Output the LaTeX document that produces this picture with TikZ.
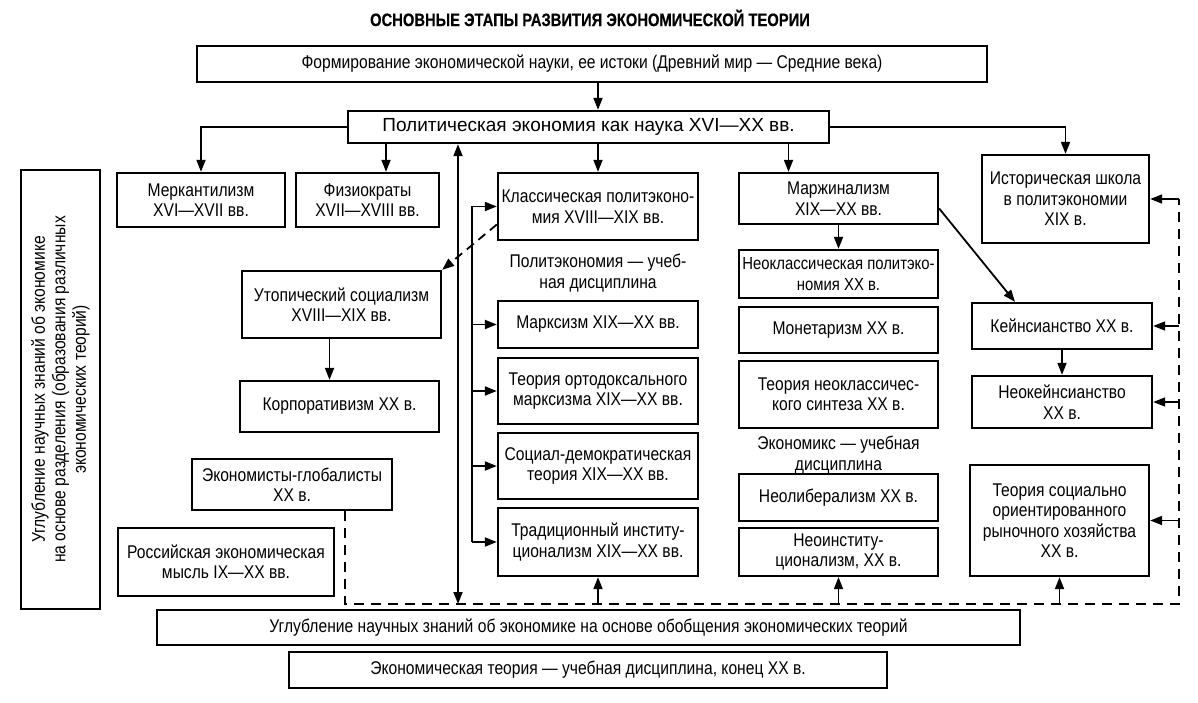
\documentclass[tikz,border=0pt]{standalone}
\usepackage{fontspec}
\setmainfont{Liberation Sans}[FakeStretch=0.85]
\newfontfamily\widefont{Liberation Sans}
\newfontfamily\titlefont{Liberation Sans}[FakeStretch=0.82, FakeBold=0.4]
\usetikzlibrary{calc, arrows.meta}

\begin{document}
\begin{tikzpicture}[x=1pt, y=-1pt,
		box/.style={draw, line width=2.3pt, align=center, inner sep=1pt, font=\fontsize{18.4}{20.5}\selectfont},
		lbl/.style={align=center, inner sep=0pt, font=\fontsize{18.4}{20.5}\selectfont},
		arr/.style={line width=1.8pt, -{Triangle[length=12pt, width=9pt]}},
		dashline/.style={line width=2.1pt, dash pattern=on 10pt off 7pt}]
		\useasboundingbox (0,0) rectangle (1198,703);
		
		% Title
		\node[font=\titlefont\bfseries\fontsize{18}{20}\selectfont] (title) at (590,18) {ОСНОВНЫЕ ЭТАПЫ РАЗВИТИЯ ЭКОНОМИЧЕСКОЙ ТЕОРИИ};
		
		% Top of the scheme
		\node[box, minimum width=790, minimum height=36] (form) at (592,64) {Формирование экономической науки, ее истоки (Древний мир — Средние века)};
		\node[box, minimum width=481, minimum height=32, font=\widefont\fontsize{19}{20}\selectfont] (pol) at (588.5,127) {Политическая экономия как наука XVI—XX вв.};
		
		% Left side
		\node[box, rotate=90, minimum width=439, minimum height=79] (deep) at (60.5,389.5) {Углубление научных знаний об экономике\\на основе разделения (образования различных\\экономических теорий)};
		\node[box, minimum width=168, minimum height=54] (merc) at (201,200) {Меркантилизм\\XVI—XVII вв.};
		\node[box, minimum width=143, minimum height=54] (fiz) at (367.5,200) {Физиократы\\XVII—XVIII вв.};
		\node[box, minimum width=199, minimum height=67] (utop) at (341.5,304.5) {Утопический социализм\\XVIII—XIX вв.};
		\node[box, minimum width=199, minimum height=51] (korp) at (339.5,406.5) {Корпоративизм XX в.};
		\node[box, minimum width=200, minimum height=51] (glob) at (292,484.5) {Экономисты-глобалисты\\XX в.};
		\node[box, minimum width=216, minimum height=68] (rus) at (226,562) {Российская экономическая\\мысль IX—XX вв.};
		
		% Classical political economy
		\node[box, minimum width=200, minimum height=67] (clas) at (598,206.5) {Классическая политэконо-\\мия XVIII—XIX вв.};
		\node[lbl] (polstudy) at (598,273) {Политэкономия — учеб-\\ная дисциплина};
		\node[box, minimum width=200, minimum height=47] (marx) at (598,324.5) {Марксизм XIX—XX вв.};
		\node[box, minimum width=200, minimum height=66] (orth) at (598,391) {Теория ортодоксального\\марксизма XIX—XX вв.};
		\node[box, minimum width=200, minimum height=66] (soc) at (598,466) {Социал-демократическая\\теория XIX—XX вв.};
		\node[box, minimum width=200, minimum height=68] (trad) at (598,542) {Традиционный институ-\\ционализм XIX—XX вв.};
		
		% Marginalism
		\node[box, minimum width=199, minimum height=51] (marg) at (838.5,198.5) {Маржинализм\\XIX—XX вв.};
		\node[box, minimum width=199, minimum height=48, inner sep=0pt, font=\fontsize{17.5}{20.5}\selectfont] (neocl) at (838.5,274) {Неоклассическая политэко-\\номия XX в.};
		\node[box, minimum width=199, minimum height=46] (monet) at (838.5,330) {Монетаризм XX в.};
		\node[box, minimum width=199, minimum height=67] (synth) at (838.5,394.5) {Теория неоклассичес-\\кого синтеза XX в.};
		\node[lbl] (ecstudy) at (838.5,455) {Экономикс — учебная\\дисциплина};
		\node[box, minimum width=199, minimum height=47] (neolib) at (838.5,497.5) {Неолиберализм XX в.};
		\node[box, minimum width=199, minimum height=48] (neoinst) at (838.5,552) {Неоинститу-\\ционализм, XX в.};
		
		% Right side
		\node[box, minimum width=167, minimum height=88] (hist) at (1065.5,199) {Историческая школа\\в политэкономии\\XIX в.};
		\node[box, minimum width=180, minimum height=46] (keyn) at (1062,326) {Кейнсианство XX в.};
		\node[box, minimum width=180, minimum height=52] (neokeyn) at (1062,402) {Неокейнсианство\\XX в.};
		\node[box, minimum width=179, minimum height=111] (socm) at (1059.5,520.5) {Теория социально\\ориентированного\\рыночного хозяйства\\XX в.};
		
		% Bottom
		\node[box, minimum width=863, minimum height=35] (gen) at (588.5,627.5) {Углубление научных знаний об экономике на основе обобщения экономических теорий};
		\node[box, minimum width=598, minimum height=36] (fin) at (588,670) {Экономическая теория — учебная дисциплина, конец XX в.};
		
		\coordinate (spine) at (458,604);
		\coordinate (brk) at (472,0);
		\coordinate (dl) at (345,604);
		\coordinate (dr) at (1179,604);
		\coordinate (dt) at (hist.east -| dr);
		
		% Arrows from the top
		\draw[arr] (form.south -| clas.north) -- (pol.north -| clas.north);
		\draw[arr] (pol.west) -| (merc.north);
		\draw[arr] ([xshift=18.5pt]fiz.north |- pol.south) -- ([xshift=18.5pt]fiz.north);
		\draw[arr] (pol.south -| clas.north) -- (clas.north);
		\draw[arr] ([xshift=-50pt]marg.north |- pol.south) -- ([xshift=-50pt]marg.north);
		\draw[arr] (pol.east) -| (hist.north);
		\draw[line width=1.8pt, {Triangle[length=12pt, width=9pt]}-{Triangle[length=12pt, width=9pt]}] (spine |- pol.south) -- (spine);
		
		% Classical branch
		\draw[line width=1.8pt] (clas.west -| brk) -- (trad.west -| brk);
		\foreach \b in {clas,marx,orth,soc,trad}{
			\draw[arr] (\b.west -| brk) -- (\b.west);
		}
		\draw[arr, dash pattern=on 9pt off 6pt] ([yshift=-18pt]clas.west) -- (utop.north east);
		\draw[arr] ([xshift=-12pt]utop.south) -- ([xshift=-12pt]utop.south |- korp.north);
		
		% Marginalism branch
		\draw[arr] (marg.south) -- (neocl.north);
		\draw[arr] ([yshift=-10pt]marg.east) -- ([xshift=-47pt]keyn.north);
		\draw[arr] (keyn.south) -- (neokeyn.north);
		
		% Dashed frame
		\draw[dashline] (glob.south -| dl) -- (dl) -- (dr) -- (dt);
		\draw[arr] (dt) -- (hist.east);
		\foreach \b in {keyn,neokeyn,socm}{
			\draw[arr] (\b.east -| dr) -- (\b.east);
		}
		\foreach \b in {trad,neoinst,socm}{
			\draw[arr] (\b.south |- dl) -- (\b.south);
		}
		
	\end{tikzpicture}
\end{document}
